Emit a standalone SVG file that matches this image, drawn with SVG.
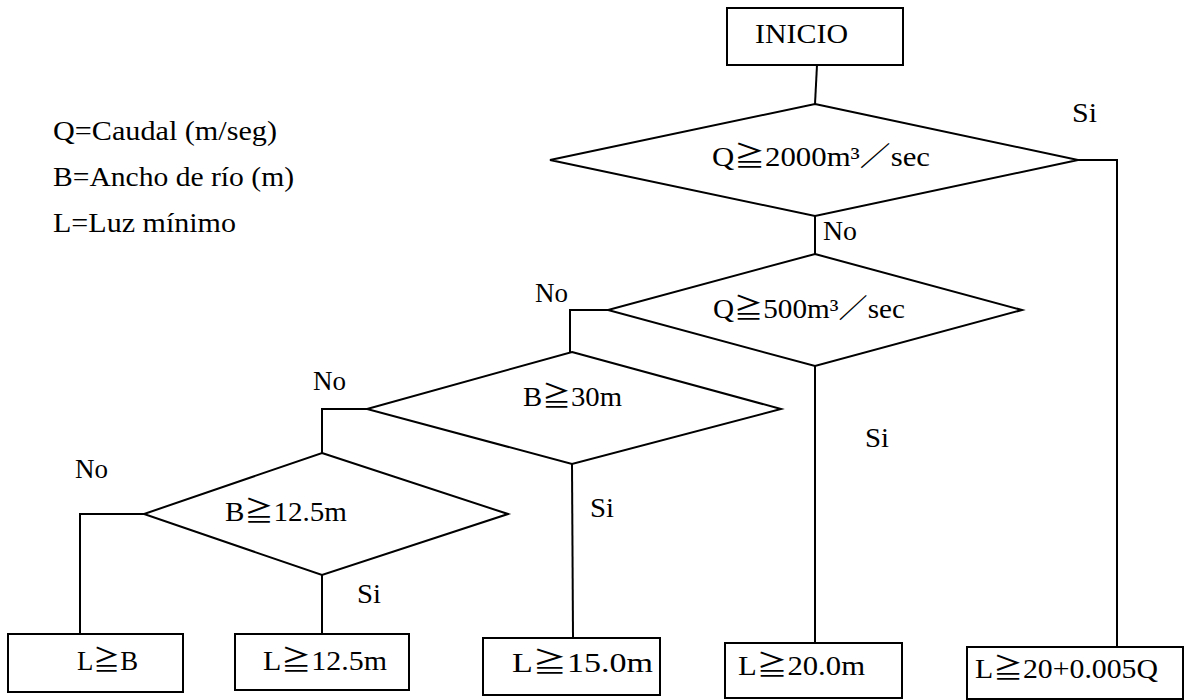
<svg xmlns="http://www.w3.org/2000/svg" width="1186" height="700" viewBox="0 0 1186 700">
<style>
.s{fill:none;stroke:#000;stroke-width:2;}
.b{fill:#fff;stroke:#000;stroke-width:2;}
.t{font-family:"Liberation Serif","DejaVu Serif","Noto Sans CJK JP",serif;font-size:27px;fill:#000;}
</style>
<rect width="1186" height="700" fill="#fff"/>
<g id="legend">
<text class="t" x="53" y="140" textLength="224" lengthAdjust="spacingAndGlyphs">Q=Caudal (m/seg)</text>
<text class="t" x="53" y="186" textLength="241" lengthAdjust="spacingAndGlyphs">B=Ancho de río (m)</text>
<text class="t" x="53" y="232" textLength="183" lengthAdjust="spacingAndGlyphs">L=Luz mínimo</text>
</g>
<g id="connectors">
<polyline class="s" points="817,65 815,104"/>
<polyline class="s" points="1078,160 1117,160 1117,647"/>
<polyline class="s" points="815,216 815,254"/>
<polyline class="s" points="608,310 570,310 570,352"/>
<polyline class="s" points="815,366 815,643"/>
<polyline class="s" points="367,409 322,409 322,453"/>
<polyline class="s" points="572,464 573,638"/>
<polyline class="s" points="144,514 80,514 80,634"/>
<polyline class="s" points="322,575 322,634"/>
</g>
<g id="labels">
<text class="t" x="1072" y="122" textLength="25" lengthAdjust="spacingAndGlyphs">Si</text>
<text class="t" x="823" y="240" textLength="34" lengthAdjust="spacingAndGlyphs">No</text>
<text class="t" x="535" y="302" textLength="33" lengthAdjust="spacingAndGlyphs">No</text>
<text class="t" x="313" y="390" textLength="33" lengthAdjust="spacingAndGlyphs">No</text>
<text class="t" x="75" y="478" textLength="33" lengthAdjust="spacingAndGlyphs">No</text>
<text class="t" x="865" y="447" textLength="24" lengthAdjust="spacingAndGlyphs">Si</text>
<text class="t" x="590" y="517" textLength="24" lengthAdjust="spacingAndGlyphs">Si</text>
<text class="t" x="357" y="603" textLength="24" lengthAdjust="spacingAndGlyphs">Si</text>
</g>
<g id="inicio">
<rect class="b" x="727" y="8" width="176" height="57"/>
<text class="t" x="755" y="43" textLength="93" lengthAdjust="spacingAndGlyphs">INICIO</text>
</g>
<g id="d1">
<polygon class="b" points="815,104 1078,160 815,216 550,160"/>
<text class="t" x="712" y="166" textLength="218" lengthAdjust="spacingAndGlyphs">Q≧2000m³／sec</text>
</g>
<g id="d2">
<polygon class="b" points="815,254 1022,310 815,366 608,310"/>
<text class="t" x="713" y="318" textLength="192" lengthAdjust="spacingAndGlyphs">Q≧500m³／sec</text>
</g>
<g id="d3">
<polygon class="b" points="572,352 781,409 572,464 367,409"/>
<text class="t" x="523" y="406" textLength="99" lengthAdjust="spacingAndGlyphs">B≧30m</text>
</g>
<g id="d4">
<polygon class="b" points="322,453 508,514 322,575 144,514"/>
<text class="t" x="225" y="521" textLength="122" lengthAdjust="spacingAndGlyphs">B≧12.5m</text>
</g>
<g id="r1">
<rect class="b" x="8" y="634" width="175" height="58"/>
<text class="t" x="77" y="670" textLength="61" lengthAdjust="spacingAndGlyphs">L≧B</text>
</g>
<g id="r2">
<rect class="b" x="235" y="634" width="174" height="56"/>
<text class="t" x="263" y="670" textLength="124" lengthAdjust="spacingAndGlyphs">L≧12.5m</text>
</g>
<g id="r3">
<rect class="b" x="483" y="638" width="177" height="57"/>
<text class="t" x="512" y="672" textLength="141" lengthAdjust="spacingAndGlyphs">L≧15.0m</text>
</g>
<g id="r4">
<rect class="b" x="725" y="643" width="177" height="55"/>
<text class="t" x="738" y="675" textLength="127" lengthAdjust="spacingAndGlyphs">L≧20.0m</text>
</g>
<g id="r5">
<rect class="b" x="967" y="647" width="216" height="52"/>
<text class="t" x="975" y="678" textLength="183" lengthAdjust="spacingAndGlyphs">L≧20+0.005Q</text>
</g>
</svg>
